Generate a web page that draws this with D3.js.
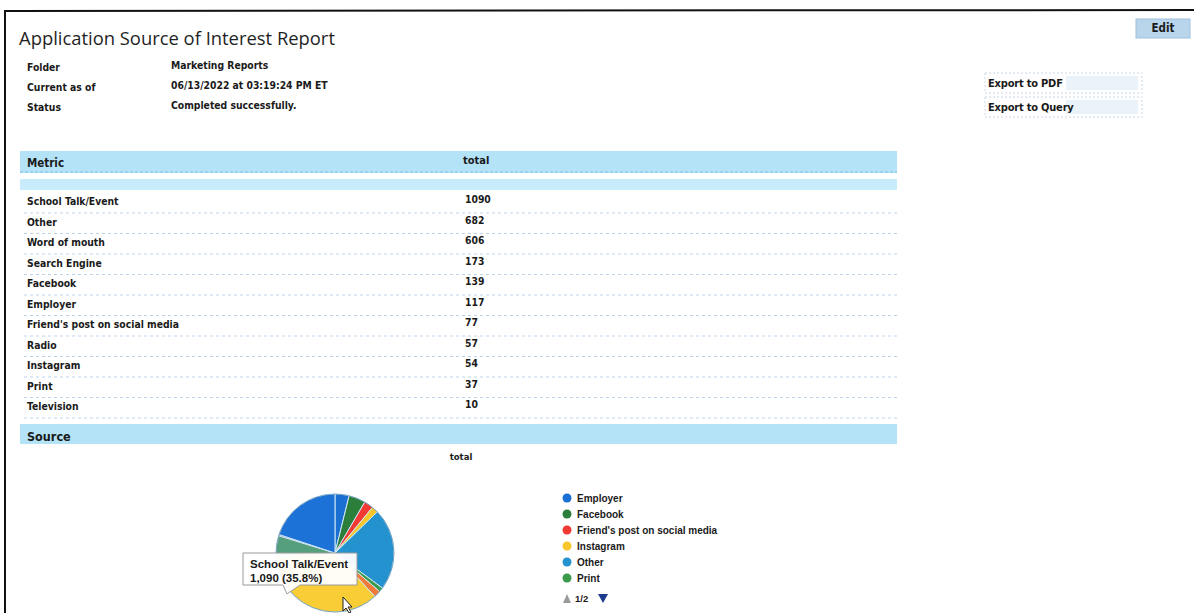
<!DOCTYPE html>
<html><head><meta charset="utf-8">
<script src="https://cdn.jsdelivr.net/npm/d3@7"></script>
<style>
html,body{margin:0;padding:0;background:#fff;}
svg{display:block;}
.lbl{font-family:"DejaVu Sans Condensed","DejaVu Sans",sans-serif;font-weight:bold;font-size:10.3px;fill:#1a1a1a;}
.leg{font-family:"Liberation Sans",Arial,sans-serif;font-weight:bold;font-size:10px;fill:#1a1a1a;}
</style></head>
<body>
<script>
// ---- data ----
const categories = ["School Talk/Event","Other","Word of mouth","Search Engine","Facebook","Employer","Friend's post on social media","Radio","Instagram","Print","Television"];
const totals = [1090,682,606,173,139,117,77,57,54,37,10];
const infoLabels = ["Folder","Current as of","Status"];
const infoValues = ["Marketing Reports","06/13/2022 at 03:19:24 PM ET","Completed successfully."];
const colorDomain = ["Employer","Facebook","Friend's post on social media","Instagram","Other","Print","Radio","School Talk/Event","Search Engine","Television","Word of mouth"];
const colorRange = ["#1a6fd2","#2b7f3a","#f23a34","#f6c62a","#2592d0","#3c9a4c","#f07a3a","#f8cd35","#559f7c","#7a4fa8","#1c72d6"];
const legendPageSize = 6;

const W = 1194, H = 613;
const svg = d3.select("body").append("svg").attr("width", W).attr("height", H);

// frame
svg.append("line").attr("x1",5).attr("x2",W).attr("y1",11).attr("y2",10).attr("stroke","#111").attr("stroke-width",2);
svg.append("line").attr("x1",5).attr("x2",5).attr("y1",10).attr("y2",H).attr("stroke","#111").attr("stroke-width",2);

// title
svg.append("text").attr("x",19).attr("y",45).text("Application Source of Interest Report")
  .style("font-family","'Open Sans',sans-serif").style("font-size","18.4px").attr("fill","#1f1f1f");

// info block
const infoY = d3.scalePoint().domain(infoLabels).range([71, 111]);
svg.selectAll(".il").data(infoLabels).join("text").attr("class","lbl").attr("x",27).attr("y",d=>infoY(d)).text(d=>d);
svg.selectAll(".iv").data(infoValues).join("text").attr("class","lbl").attr("x",171).attr("y",(d,i)=>infoY(infoLabels[i])-2).text(d=>d);

// Edit button
const eb = svg.append("g");
eb.append("rect").attr("x",1136).attr("y",19).attr("width",54).attr("height",19).attr("fill","#b9d5ec").attr("stroke","#9fc0dc");
eb.append("text").attr("x",1163).attr("y",32).attr("text-anchor","middle").attr("class","lbl").style("font-size","11.5px").text("Edit");

// Export buttons
[["Export to PDF",73],["Export to Query",97]].forEach(([t,y])=>{
  svg.append("rect").attr("x",985).attr("y",y).attr("width",157).attr("height",20).attr("fill","#fff")
    .attr("stroke","#c9d6e4").attr("stroke-dasharray","2,2");
  svg.append("rect").attr("x",1066).attr("y",y+3).attr("width",72).attr("height",14).attr("fill","#e3eef8").attr("opacity",0.7);
  svg.append("text").attr("x",988).attr("y",y+14).attr("class","lbl").style("font-size","11px").style("letter-spacing","-0.2px").text(t);
});

// table header bars
const tableX0 = 20, tableX1 = 897;
svg.append("rect").attr("x",tableX0).attr("y",151).attr("width",tableX1-tableX0).attr("height",22).attr("fill","#b4e3f8");
svg.append("line").attr("x1",tableX0).attr("x2",tableX1).attr("y1",172).attr("y2",172).attr("stroke","#7fc1e6").attr("stroke-dasharray","3,2");
svg.append("rect").attr("x",tableX0).attr("y",179).attr("width",tableX1-tableX0).attr("height",11).attr("fill","#c8ecfb");
svg.append("text").attr("x",27).attr("y",167).attr("class","lbl").style("font-size","11.5px").text("Metric");
svg.append("text").attr("x",463).attr("y",164).attr("class","lbl").style("font-size","11px").text("total");

// rows
const yRow = d3.scalePoint().domain(categories).range([205, 410]);
const rows = svg.append("g");
rows.selectAll(".sep").data(categories).join("line")
  .attr("x1",tableX0+4).attr("x2",tableX1).attr("y1",d=>yRow(d)+8).attr("y2",d=>yRow(d)+8)
  .attr("stroke","#bcd3ea").attr("stroke-dasharray","3,3").attr("stroke-width",1);
rows.selectAll(".rl").data(categories).join("text").attr("class","lbl").attr("x",27).attr("y",d=>yRow(d)).text(d=>d);
rows.selectAll(".rv").data(totals).join("text").attr("class","lbl").attr("x",465).attr("y",(d,i)=>yRow(categories[i])-2).text(d=>d);

// Source bar
svg.append("rect").attr("x",tableX0).attr("y",424).attr("width",tableX1-tableX0).attr("height",20).attr("fill","#b4e3f8");
svg.append("text").attr("x",27).attr("y",441).attr("class","lbl").style("font-size","12.5px").text("Source");
svg.append("text").attr("x",461).attr("y",460).attr("text-anchor","middle").attr("class","lbl").style("font-size","9.5px").text("total");

// pie
const data = categories.map((c,i)=>({cat:c, v:totals[i]})).sort((a,b)=>d3.ascending(a.cat,b.cat));
const color = d3.scaleOrdinal().domain(colorDomain).range(colorRange);
const pie = d3.pie().sort(null).value(d=>d.v).startAngle(0).endAngle(2*Math.PI);
const arcs = pie(data);
const r = 59;
const arc = d3.arc().innerRadius(0).outerRadius(r);
const pg = svg.append("g").attr("transform","translate(335,553)");
pg.selectAll("path").data(arcs).join("path").attr("d",arc).attr("fill",d=>color(d.data.cat))
  .attr("stroke","#cfe8f5").attr("stroke-width",1);
pg.append("circle").attr("r",r).attr("fill","none").attr("stroke","#1d5a8a").attr("stroke-width",0.8).attr("opacity",0.6);

// legend
const legData = data.slice(0, legendPageSize);
const ly = d3.scalePoint().domain(legData.map(d=>d.cat)).range([498, 578]);
const lg = svg.append("g");
lg.selectAll("circle").data(legData).join("circle").attr("cx",567).attr("cy",d=>ly(d.cat)).attr("r",4.5).attr("fill",d=>color(d.cat));
lg.selectAll("text").data(legData).join("text").attr("class","leg").attr("x",577).attr("y",d=>ly(d.cat)+3.5).text(d=>d.cat);
// pager
lg.append("path").attr("d","M563,603 L567,594 L571,603 Z").attr("fill","#9a9a9a");
lg.append("text").attr("x",575).attr("y",602).attr("class","leg").style("font-size","9.5px").attr("fill","#2a3f7a").text("1/"+Math.ceil(data.length/legendPageSize));
lg.append("path").attr("d","M598,594 L608,594 L603,603 Z").attr("fill","#1e3a8a");

// tooltip
const tip = data.find(d=>d.cat==="School Talk/Event");
const sum = d3.sum(totals);
const tg = svg.append("g");
tg.append("path").attr("d","M243,553 L357,553 L357,585 L300,585 L287,594 L283,585 L243,585 Z")
  .attr("fill","#fff").attr("fill-opacity",0.95).attr("stroke","#9a9a9a").attr("stroke-width",1);
tg.append("text").attr("x",250).attr("y",568).attr("class","leg").style("font-size","11.5px").attr("fill","#333").text(tip.cat);
tg.append("text").attr("x",250).attr("y",582).attr("class","leg").style("font-size","11.5px").attr("fill","#333")
  .text(d3.format(",")(tip.v)+" ("+d3.format(".1%")(tip.v/sum)+")");

// cursor
svg.append("path").attr("d","M343,597 L343,611 L346,608 L349,613 L351,612 L348,607 L352,607 Z")
  .attr("fill","#fff").attr("stroke","#222").attr("stroke-width",1);
</script>
</body></html>
